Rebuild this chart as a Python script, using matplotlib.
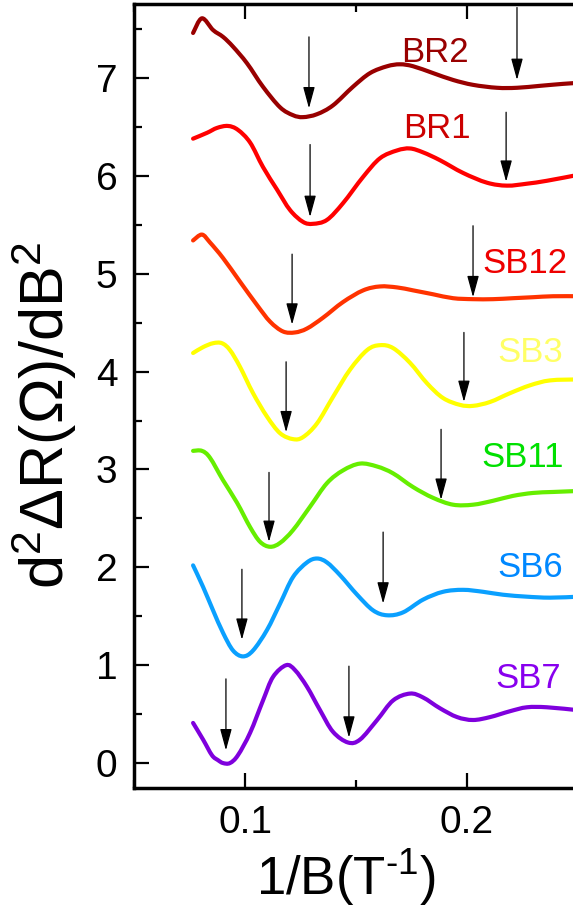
import numpy as np
import matplotlib
matplotlib.use("Agg")
import matplotlib.pyplot as plt
from matplotlib.path import Path
from matplotlib.patches import PathPatch

plt.rcParams['font.family'] = ['Liberation Sans', 'DejaVu Sans']
plt.rcParams['mathtext.fontset'] = 'custom'
plt.rcParams['mathtext.rm'] = 'Liberation Sans'
plt.rcParams['mathtext.it'] = 'Liberation Sans:italic'

# second-derivative traces, vertically offset, one per sample
names = ['BR2', 'BR1', 'SB12', 'SB3', 'SB11', 'SB6', 'SB7']

br2_x = [0.0766, 0.0806, 0.0856, 0.0901, 0.0946, 0.1009, 0.1081, 0.1158, 0.1216, 0.1261,
         0.1324, 0.1396, 0.1486, 0.1563, 0.1640, 0.1698, 0.1757, 0.1847, 0.1937, 0.2027,
         0.2135, 0.2225, 0.2329, 0.2432, 0.2500]
br2_y = [7.46, 7.61, 7.49, 7.42, 7.32, 7.15, 6.91, 6.70, 6.62, 6.60,
         6.63, 6.72, 6.91, 7.05, 7.12, 7.14, 7.12, 7.05, 6.98, 6.93,
         6.90, 6.90, 6.92, 6.94, 6.95]

br1_x = [0.0766, 0.0829, 0.0874, 0.0923, 0.0968, 0.1023, 0.1081, 0.1144, 0.1203, 0.1261,
         0.1306, 0.1369, 0.1441, 0.1532, 0.1608, 0.1685, 0.1743, 0.1802, 0.1878, 0.1982,
         0.2090, 0.2180, 0.2270, 0.2360, 0.2500]
br1_y = [6.38, 6.44, 6.49, 6.51, 6.47, 6.34, 6.09, 5.86, 5.65, 5.53,
         5.51, 5.55, 5.72, 5.99, 6.18, 6.26, 6.28, 6.24, 6.16, 6.03,
         5.93, 5.90, 5.92, 5.95, 6.01]

sb12_x = [0.0766, 0.0806, 0.0842, 0.0901, 0.0977, 0.1054, 0.1113, 0.1171, 0.1225, 0.1279,
          0.1351, 0.1441, 0.1532, 0.1608, 0.1685, 0.1757, 0.1847, 0.1937, 0.2027, 0.2117,
          0.2207, 0.2297, 0.2387, 0.2500]
sb12_y = [5.34, 5.40, 5.32, 5.16, 4.92, 4.68, 4.51, 4.41, 4.40, 4.44,
          4.55, 4.71, 4.83, 4.87, 4.86, 4.83, 4.79, 4.75, 4.74, 4.74,
          4.75, 4.76, 4.77, 4.77]

sb3_x = [0.0766, 0.0811, 0.0856, 0.0896, 0.0932, 0.0977, 0.1036, 0.1099, 0.1158, 0.1216,
         0.1261, 0.1324, 0.1396, 0.1473, 0.1550, 0.1608, 0.1667, 0.1743, 0.1820, 0.1892,
         0.1968, 0.2027, 0.2104, 0.2194, 0.2284, 0.2374, 0.2500]
sb3_y = [4.19, 4.25, 4.29, 4.29, 4.22, 4.05, 3.78, 3.54, 3.37, 3.31,
         3.33, 3.47, 3.74, 4.02, 4.22, 4.27, 4.24, 4.09, 3.88, 3.73,
         3.66, 3.65, 3.69, 3.78, 3.86, 3.91, 3.92]

sb11_x = [0.0766, 0.0806, 0.0842, 0.0901, 0.0964, 0.1023, 0.1068, 0.1113, 0.1158, 0.1216,
          0.1293, 0.1369, 0.1441, 0.1518, 0.1595, 0.1667, 0.1757, 0.1847, 0.1937, 0.2027,
          0.2117, 0.2207, 0.2297, 0.2387, 0.2500]
sb11_y = [3.19, 3.19, 3.12, 2.89, 2.66, 2.41, 2.26, 2.21, 2.25, 2.38,
          2.62, 2.86, 2.99, 3.06, 3.03, 2.96, 2.82, 2.71, 2.64, 2.64,
          2.68, 2.73, 2.76, 2.77, 2.78]

sb6_x = [0.0766, 0.0811, 0.0856, 0.0901, 0.0946, 0.0991, 0.1036, 0.1099, 0.1158, 0.1216,
         0.1279, 0.1324, 0.1369, 0.1428, 0.1505, 0.1577, 0.1640, 0.1712, 0.1802, 0.1892,
         0.1982, 0.2072, 0.2162, 0.2270, 0.2374, 0.2500]
sb6_y = [2.02, 1.80, 1.56, 1.33, 1.15, 1.09, 1.15, 1.36, 1.63, 1.90,
         2.05, 2.09, 2.05, 1.92, 1.72, 1.56, 1.51, 1.54, 1.67, 1.75,
         1.77, 1.75, 1.72, 1.70, 1.69, 1.70]

sb7_x = [0.0766, 0.0811, 0.0851, 0.0878, 0.0901, 0.0932, 0.0968, 0.1023, 0.1081, 0.1126,
         0.1185, 0.1225, 0.1279, 0.1338, 0.1396, 0.1464, 0.1518, 0.1595, 0.1667, 0.1743,
         0.1802, 0.1878, 0.1955, 0.2027, 0.2104, 0.2194, 0.2270, 0.2360, 0.2500]
sb7_y = [0.41, 0.24, 0.08, 0.03, 0.00, 0.00, 0.08, 0.31, 0.64, 0.88,
         1.00, 0.95, 0.78, 0.54, 0.32, 0.21, 0.24, 0.44, 0.64, 0.71,
         0.67, 0.56, 0.47, 0.44, 0.47, 0.53, 0.57, 0.57, 0.54]

xs = [br2_x, br1_x, sb12_x, sb3_x, sb11_x, sb6_x, sb7_x]
ys = [br2_y, br1_y, sb12_y, sb3_y, sb11_y, sb6_y, sb7_y]

line_colors = ['#990000', '#FF0000', '#FF3300', '#FFFF00', '#66EE00', '#0AA0FF', '#7F00DD']
text_colors = ['#990000', '#CC0000', '#EE0000', '#FFFF66', '#00E000', '#0088FF', '#8800EE']

# sample name positions (x centre, baseline y)
label_x = [0.1856, 0.1865, 0.2261, 0.2284, 0.2252, 0.2284, 0.2275]
label_y = [7.16, 6.39, 5.01, 4.10, 3.03, 1.90, 0.77]

# arrows marking the minima: (x, tail y, tip y), two per trace
arrow_x = [[0.1288, 0.2225], [0.1293, 0.2176], [0.1212, 0.2027], [0.1185, 0.1986],
           [0.1108, 0.1883], [0.0986, 0.1622], [0.0914, 0.1468]]
arrow_tail = [[7.42, 7.72], [6.32, 6.65], [5.20, 5.49], [4.10, 4.40],
              [2.97, 3.41], [1.98, 2.36], [0.86, 0.99]]
arrow_tip = [[6.69, 6.98], [5.58, 5.94], [4.48, 4.76], [3.38, 3.69],
             [2.26, 2.69], [1.26, 1.63], [0.13, 0.26]]


def spline_path(x, y):
    # connect the points with Catmull-Rom style cubic segments (spline line)
    pts = np.column_stack([x, y])
    n = len(pts)
    verts = [pts[0]]
    codes = [Path.MOVETO]
    for i in range(n - 1):
        p0 = pts[max(i - 1, 0)]
        p1 = pts[i]
        p2 = pts[i + 1]
        p3 = pts[min(i + 2, n - 1)]
        verts += [p1 + (p2 - p0) / 6.0, p2 - (p3 - p1) / 6.0, p2]
        codes += [Path.CURVE4] * 3
    return Path(verts, codes)


fig = plt.figure(figsize=(5.73, 9.11), dpi=100)
ax = fig.add_axes([0.2339, 0.1350, 0.7749, 0.8606])

for i in range(len(names)):
    ax.add_patch(PathPatch(spline_path(xs[i], ys[i]), facecolor='none',
                           edgecolor=line_colors[i], lw=3.0,
                           joinstyle='round', capstyle='round'))
    ax.text(label_x[i], label_y[i], names[i], color=text_colors[i],
            fontsize=25, ha='center', va='baseline')
    for ax_x, y0, y1 in zip(arrow_x[i], arrow_tail[i], arrow_tip[i]):
        ax.annotate('', xy=(ax_x, y1), xytext=(ax_x, y0),
                    arrowprops=dict(arrowstyle='-|>,head_length=0.55,head_width=0.15',
                                    mutation_scale=24, color='black', lw=0.9,
                                    shrinkA=0, shrinkB=0))

ax.set_xlim(0.05, 0.25)
ax.set_ylim(-0.255, 7.756)
ax.set_xticks([0.1, 0.2])
ax.set_xticklabels(['0.1', '0.2'])
ax.set_xticks([0.05, 0.15, 0.25], minor=True)
ax.set_yticks(range(0, 8))
ax.set_yticks(np.arange(0.5, 7.6, 1.0), minor=True)

for s in ax.spines.values():
    s.set_linewidth(2.5)
ax.tick_params(which='both', direction='in', top=True, right=False, width=1.6)
ax.tick_params(which='major', length=11, labelsize=28)
ax.tick_params(which='minor', length=6)
ax.tick_params(axis='x', pad=12)
ax.tick_params(axis='y', pad=12)

fig.text(346 / 573, 1 - 878 / 911, r'1/B(T$^{\text{-1}}$)', fontsize=38,
         ha='center', va='center')
fig.text(44 / 573, 1 - 415 / 911, r'd$^{\mathrm{2}}$$\Delta$R($\Omega$)/dB$^{\mathrm{2}}$',
         fontsize=44, rotation=90, ha='center', va='center')

fig.savefig('out.png', dpi=100)
